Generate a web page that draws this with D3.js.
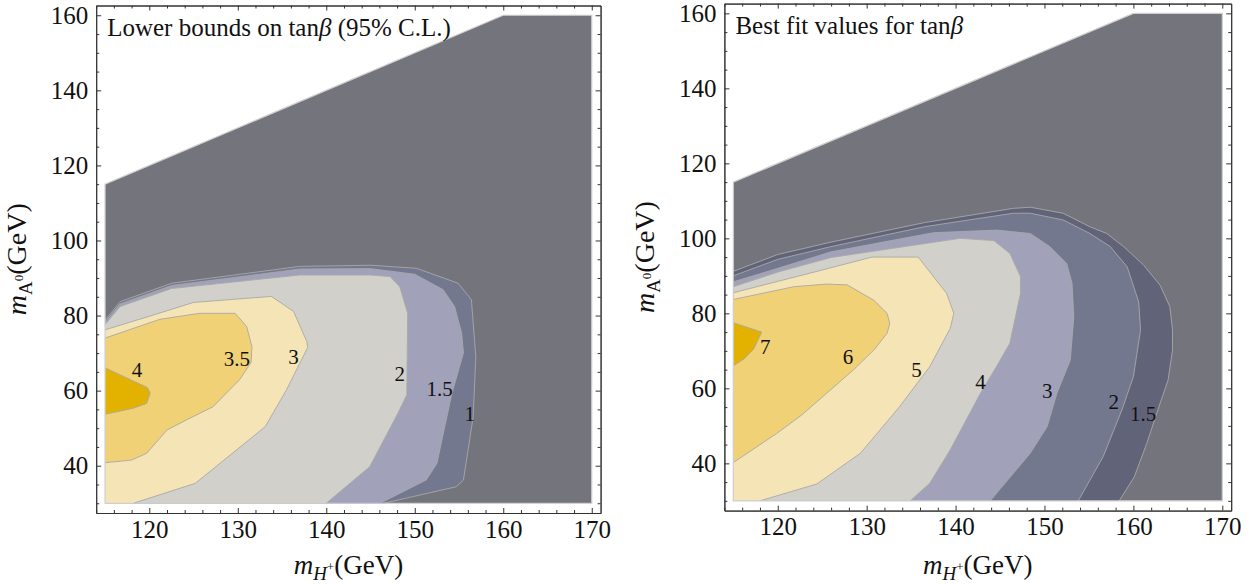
<!DOCTYPE html>
<html><head><meta charset="utf-8">
<script src="https://cdn.jsdelivr.net/npm/d3@7"></script>
<style>body{margin:0;background:#fff}</style>
</head><body>
<svg id="chart" width="1253" height="586" xmlns="http://www.w3.org/2000/svg"></svg>
<script>
// ---------- data ----------
const xMajorTicks = [120,130,140,150,160,170];
const xMinorTicks = [114,116,118,122,124,126,128,132,134,136,138,142,144,146,148,152,154,156,158,162,164,166,168];
const yMajorTicks = [40,60,80,100,120,140,160];
const yMinorTicks = [30,35,45,50,55,65,70,75,85,90,95,105,110,115,125,130,135,145,150,155];

// scanned region (m_H+, m_A0)
const domainOutline = [[115,30],[115,115],[160,160],[170,160],[170,30]];

// left panel: lower bounds on tan(beta)
const leftLevels = [1,1.5,2,3,3.5,4];
const leftContours = [
  [[115,78.8],[116.7,83.7],[122.5,88.6],[137,93.1],[145,93.4],[150.2,92.6],[154.9,88.6],[156.4,84.2],[156.9,69],[156.6,53],[155.5,36.2],[154.7,34.4],[146.5,30]],
  [[115,78.3],[116.7,83.1],[122.5,88],[137,92.4],[145,92.5],[150,91],[153.2,86.9],[154.5,82.4],[155.3,75.3],[155.5,70],[154.2,59.3],[152.5,40.6],[151.3,36.2],[146.1,30]],
  [[115,77.6],[116.7,82.4],[122.5,87.2],[137,90.8],[145,90.8],[147.2,90.4],[148.3,87.7],[149.2,80.6],[149.1,58.9],[148.1,54],[144.9,39.7],[140,30]],
  [[115,76.2],[120,79.8],[125,83.5],[133.8,85.1],[136.3,81.1],[137.8,73.1],[137.9,71.5],[135.5,60.2],[133.1,50.4],[125.2,35.3],[118.2,30]],
  [[115,74],[121.2,79],[125.7,80.6],[129.7,80.6],[131,77.1],[131.6,71.7],[131.5,67.5],[130.2,62.9],[127.2,55.7],[124.2,52.2],[122,49.5],[119.7,43.3],[118,41.5],[115,40.8]],
  [[115,66.1],[119.8,60.8],[120.1,59.3],[119.7,56.6],[118.2,55.3],[115,53.7]]
];
const leftLabels = [["4",118.6,65.5],["3.5",129.9,68.6],["3",136.3,69.1],["2",148.3,64.6],["1.5",152.8,60.6],["1",156.2,54]];

// right panel: best fit values for tan(beta)
const rightLevels = [1.5,2,3,4,5,6,7];
const rightContours = [
  [[115,91.2],[120,95.7],[126,99],[136.5,104.2],[146.5,108],[148.4,108.3],[152.1,106.7],[155.1,103.1],[157,101.3],[158.9,97.8],[161.1,93],[163,87.5],[164.1,81.8],[164.4,75.5],[164.4,70.2],[163.9,62.2],[163,56],[161.5,45.3],[160.1,36.4],[158.4,30]],
  [[115,90],[120,94.4],[126,97.8],[136.5,103.1],[146.5,106.7],[148.4,106.7],[152.1,104.9],[155.1,101.3],[157.4,97.8],[159.3,92.4],[160.6,83],[160.8,75.5],[160,63.1],[158.7,54.2],[156.6,41.8],[153.8,30]],
  [[115,88.4],[120,92],[126,96.4],[137.5,101.5],[144.6,102.2],[148.4,101.3],[150.6,97.8],[152.5,93.3],[153.1,88],[153.3,79.1],[152.9,67.5],[151.4,58.7],[150.3,49.8],[148.4,42.7],[143.9,30]],
  [[115,87.1],[120,91],[126,94.9],[140.5,100],[144.3,99.4],[146.1,96],[147.3,89.8],[147.3,85.3],[146.1,72],[144.6,65.8],[142.8,58.7],[139.4,43.6],[137.1,34.7],[134.9,30]],
  [[115,85.5],[123.6,90.7],[130.6,95],[135.8,95],[139,85.3],[139.8,80],[139.4,76],[137.1,65.8],[133.7,55.1],[129.3,42.7],[124.4,34.5],[118,30]],
  [[115,83.7],[121.8,87.1],[125.5,87.8],[127.8,87.6],[130.8,83.5],[132.3,80],[132.6,77.3],[132.3,74.7],[130.8,70.2],[128.5,64.9],[125.5,58.7],[122.7,52.9],[119.9,48],[115,40.2]],
  [[115,77.5],[118.2,75],[117.3,70.5],[116.2,67.8],[115,66]]
];
const rightLabels = [["7",118.6,71.1],["6",127.9,68.4],["5",135.6,64.9],["4",142.8,61.8],["3",150.3,59.5],["2",157.8,56.4],["1.5",161.1,53.3]];

// ---------- styles ----------
const leftColors  = ["#74747c","#73788e","#a1a1b9","#d1d0cb","#f4e4b6","#f0d176","#e3b100"];
const rightColors = ["#74747c","#616479","#73788e","#a1a1b9","#d1d0cb","#f4e4b6","#f0d176","#e3b100"];
const SERIF = "Liberation Serif, Times New Roman, serif";

const svg = d3.select("#chart");

function drawPanel(cfg){
  const x = d3.scaleLinear().domain([114,171]).range(cfg.xRange);
  const y = d3.scaleLinear().domain([27.4,162.6]).range(cfg.yRange);
  const g = svg.append("g");
  const line = d3.line().x(d=>x(d[0])).y(d=>y(d[1]));

  g.append("path").attr("d", line(domainOutline)+"Z").attr("fill", cfg.colors[0]);
  cfg.contours.forEach((c,i)=>{
    const pts = c.slice();
    if (pts[pts.length-1][1] <= 30.01) pts.push([115,30]);
    g.append("path").attr("d", line(pts)+"Z").attr("fill", cfg.colors[i+1]);
  });
  cfg.contours.forEach(c=>{
    g.append("path").attr("d", line(c)).attr("fill","none")
      .attr("stroke","#a8a8a8").attr("stroke-width",0.9).attr("stroke-linejoin","round");
  });
  g.append("path").attr("d", line(domainOutline)+"Z").attr("fill","none")
    .attr("stroke","#cfcfcf").attr("stroke-width",1.2);

  g.selectAll("text.clab").data(cfg.labels).join("text").attr("class","clab")
    .attr("x",d=>x(d[1])).attr("y",d=>y(d[2])).attr("dy","0.35em")
    .attr("text-anchor","middle").style("font-family",SERIF).style("font-size","21px")
    .attr("fill","#111").text(d=>d[0]);

  const [x0,x1] = cfg.xRange, [y0,y1] = cfg.yRange; // y0 bottom, y1 top
  const style = sel => { sel.attr("font-family",SERIF);
    sel.select(".domain").attr("stroke","#333").attr("stroke-width",1);
    sel.selectAll(".tick line").attr("stroke","#333").attr("stroke-width",1); };

  const bx = g.append("g").attr("transform",`translate(0,${y0})`)
    .call(d3.axisBottom(x).tickValues(xMajorTicks).tickSize(-5).tickSizeOuter(0).tickPadding(7));
  bx.call(style);
  bx.selectAll("text").style("font-family",SERIF).style("font-size","25px").attr("fill","#111");
  g.append("g").attr("transform",`translate(0,${y0})`)
    .call(d3.axisBottom(x).tickValues(xMinorTicks).tickSize(-3).tickSizeOuter(0).tickFormat(""))
    .call(style);

  const ly = g.append("g").attr("transform",`translate(${x0},0)`)
    .call(d3.axisLeft(y).tickValues(yMajorTicks).tickSize(-5).tickSizeOuter(0).tickPadding(8));
  ly.call(style);
  ly.selectAll("text").style("font-family",SERIF).style("font-size","25px").attr("fill","#111");
  g.append("g").attr("transform",`translate(${x0},0)`)
    .call(d3.axisLeft(y).tickValues(yMinorTicks).tickSize(-3).tickSizeOuter(0).tickFormat(""))
    .call(style);

  g.append("g").attr("transform",`translate(0,${y1})`)
    .call(d3.axisTop(x).tickValues(xMajorTicks).tickSize(-5).tickSizeOuter(0).tickFormat("")).call(style);
  g.append("g").attr("transform",`translate(0,${y1})`)
    .call(d3.axisTop(x).tickValues(xMinorTicks).tickSize(-3).tickSizeOuter(0).tickFormat("")).call(style);
  g.append("g").attr("transform",`translate(${x1},0)`)
    .call(d3.axisRight(y).tickValues(yMajorTicks).tickSize(-5).tickSizeOuter(0).tickFormat("")).call(style);
  g.append("g").attr("transform",`translate(${x1},0)`)
    .call(d3.axisRight(y).tickValues(yMinorTicks).tickSize(-3).tickSizeOuter(0).tickFormat("")).call(style);

  // panel title
  const t = g.append("text").attr("x", x0+11).attr("y", y1+30)
    .style("font-family",SERIF).style("font-size","25px").attr("fill","#111");
  t.append("tspan").text(cfg.title[0]);
  t.append("tspan").attr("font-style","italic").text("β");
  if (cfg.title[1]) t.append("tspan").text(cfg.title[1]);

  // x axis title
  const xt = g.append("text").attr("x",(x0+x1)/2).attr("y",574).attr("text-anchor","middle")
    .style("font-family",SERIF).style("font-size","27px").attr("fill","#111");
  xt.append("tspan").attr("font-style","italic").text("m");
  xt.append("tspan").attr("font-style","italic").style("font-size","19px").attr("dy",6).text("H");
  xt.append("tspan").style("font-size","13px").attr("dy",-9).text("+");
  xt.append("tspan").attr("dy",3).text("(GeV)");

  // y axis title
  const yt = g.append("text").attr("transform",`translate(${x0-70},${(y0+y1)/2}) rotate(-90)`)
    .attr("text-anchor","middle").style("font-family",SERIF).style("font-size","28px").attr("fill","#111");
  yt.append("tspan").attr("font-style","italic").text("m");
  yt.append("tspan").style("font-size","19px").attr("dy",6).text("A");
  yt.append("tspan").style("font-size","13px").attr("dy",-9).text("0");
  yt.append("tspan").attr("dy",3).text("(GeV)");
}

drawPanel({xRange:[96.2,600.6], yRange:[513,5.5], colors:leftColors, contours:leftContours,
  labels:leftLabels, title:["Lower bounds on tan"," (95% C.L.)"]});
drawPanel({xRange:[724.4,1231.2], yRange:[510.6,3.6], colors:rightColors, contours:rightContours,
  labels:rightLabels, title:["Best fit values for tan",""]});
</script>
</body></html>
